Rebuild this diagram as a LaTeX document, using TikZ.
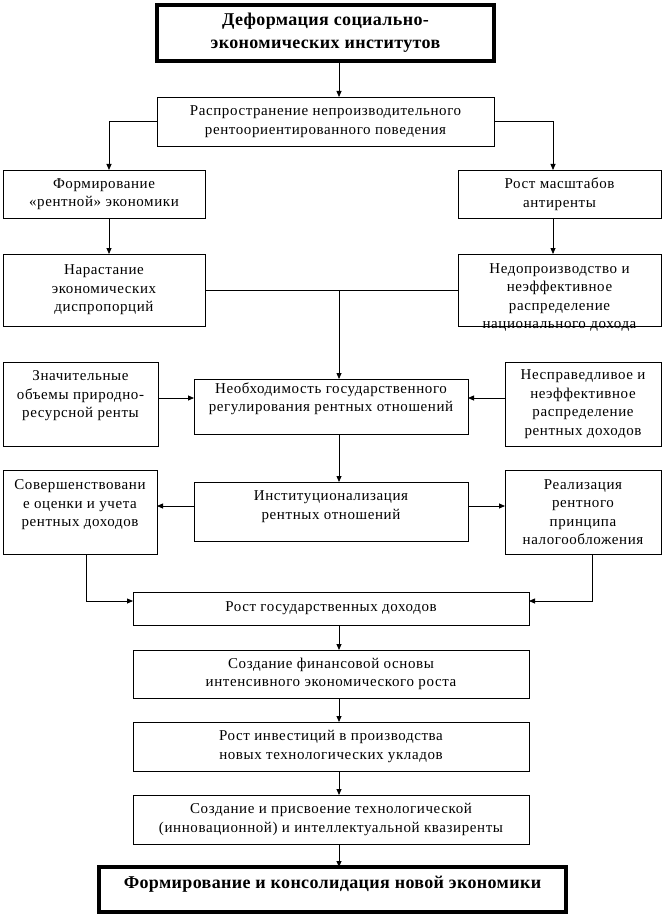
\documentclass[tikz,border=0pt]{standalone}
\usepackage{fontspec}
\setmainfont{Liberation Serif}
\newfontfamily\bxfont[LetterSpace=4]{Liberation Serif}
\newfontfamily\hdfont[LetterSpace=2]{Liberation Serif}
\usetikzlibrary{arrows.meta}
\begin{document}
\begin{tikzpicture}[x=1pt,y=-1pt,
  txt/.style={align=center, font=\bxfont\fontsize{15}{18.5}\selectfont},
  hdtxt/.style={align=center, font=\hdfont\bfseries\fontsize{18}{23}\selectfont},
  box/.style={draw, line width=0.8pt, inner sep=0pt, outer sep=0pt, txt},
  thickbox/.style={draw, line width=4pt, inner sep=0pt, outer sep=0pt, hdtxt},
  sz/.style 2 args={minimum width=#1pt, minimum height=#2pt},
  arr/.style={-{Triangle[length=6pt,width=5pt]}, line width=0.8pt},
  ln/.style={line width=0.8pt}]
\useasboundingbox (0,0) rectangle (662,917);
\coordinate (sp) at (339,0);
\coordinate (lc) at (109,0);
\coordinate (rc) at (553,0);
\coordinate (lb) at (86,0);
\coordinate (rb) at (592,0);
\coordinate (r1) at (0,398);
\coordinate (r2) at (0,506);
\coordinate (r3) at (0,601);

\node[thickbox, sz={337}{56}] (t1) at (325.5,33) {Деформация социально-\\экономических институтов};
\node[box, sz={337}{49}] (b2) at (325.5,121.5) {Распространение непроизводительного\\рентоориентированного поведения};
\node[box, sz={202}{48}] (b3) at (104,194) {Формирование\\«рентной» экономики};
\node[box, sz={203}{48}] (b4) at (559.5,194) {Рост масштабов\\антиренты};
\node[box, sz={202}{72}] (b5) at (104,290) {Нарастание\\экономических\\диспропорций};
\node[box, sz={203}{72}, label={[txt, yshift=-7.5pt]center:Недопроизводство и\\неэффективное\\распределение\\национального дохода}] (b6) at (559.5,290) {};
\node[box, sz={155}{84}, label={[txt, yshift=8pt]center:Значительные\\объемы природно-\\ресурсной ренты}] (b7) at (80.5,404) {};
\node[box, sz={274}{55}, label={[txt, yshift=8pt]center:Необходимость государственного\\регулирования рентных отношений}] (b8) at (331,406.5) {};
\node[box, sz={156}{84}] (b9) at (583,404) {Несправедливое и\\неэффективное\\распределение\\рентных доходов};
\node[box, sz={274}{59}, label={[txt, yshift=5pt]center:Институционализация\\рентных отношений}] (b10) at (331,511.5) {};
\node[box, sz={154}{84}, label={[txt, yshift=7pt]center:Совершенствовани\\е оценки и учета\\рентных доходов}] (b11) at (80,512) {};
\node[box, sz={156}{84}] (b12) at (583,512) {Реализация\\рентного\\принципа\\налогообложения};
\node[box, sz={396}{33}] (b13) at (331,608.5) {Рост государственных доходов};
\node[box, sz={396}{48}] (b14) at (331,674) {Создание финансовой основы\\интенсивного экономического роста};
\node[box, sz={396}{49}] (b15) at (331,746.5) {Рост инвестиций в производства\\новых технологических укладов};
\node[box, sz={396}{49}] (b16) at (331,819.5) {Создание и присвоение технологической\\(инновационной) и интеллектуальной квазиренты};
\node[thickbox, sz={467}{45}, label={[hdtxt, yshift=5pt]center:Формирование и консолидация новой экономики}] (b17) at (332.5,889.5) {};

\draw[arr] (t1.south -| sp) -- (b2.north -| sp);
\draw[arr] (b2.west) -| (b3.north -| lc);
\draw[arr] (b2.east) -| (b4.north -| rc);
\draw[arr] (b3.south -| lc) -- (b5.north -| lc);
\draw[arr] (b4.south -| rc) -- (b6.north -| rc);
\draw[ln] (b5.east) -- (b6.west);
\draw[arr] (b5.east -| sp) -- (b8.north -| sp);
\draw[arr] (b7.east |- r1) -- (b8.west |- r1);
\draw[arr] (b9.west |- r1) -- (b8.east |- r1);
\draw[arr] (b8.south -| sp) -- (b10.north -| sp);
\draw[arr] (b10.west |- r2) -- (b11.east |- r2);
\draw[arr] (b10.east |- r2) -- (b12.west |- r2);
\draw[arr] (b11.south -| lb) |- (b13.west |- r3);
\draw[arr] (b12.south -| rb) |- (b13.east |- r3);
\draw[arr] (b13.south -| sp) -- (b14.north -| sp);
\draw[arr] (b14.south -| sp) -- (b15.north -| sp);
\draw[arr] (b15.south -| sp) -- (b16.north -| sp);
\draw[arr] (b16.south -| sp) -- (b17.north -| sp);
\end{tikzpicture}
\end{document}
